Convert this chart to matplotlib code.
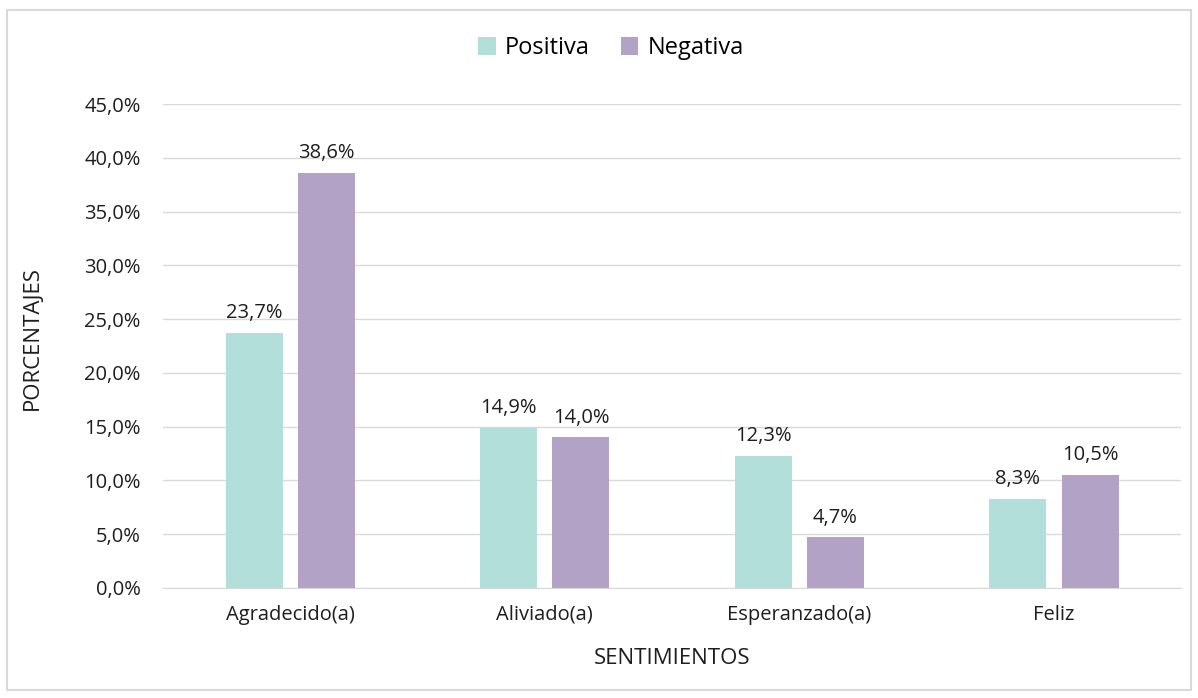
import matplotlib
matplotlib.use("Agg")
from matplotlib import pyplot as plt
from matplotlib.patches import Rectangle
import numpy as np

categories = ["Agradecido(a)", "Aliviado(a)", "Esperanzado(a)", "Feliz"]
positiva = [23.7, 14.9, 12.3, 8.3]
negativa = [38.6, 14.0, 4.7, 10.5]
yticks = [0, 5, 10, 15, 20, 25, 30, 35, 40, 45]

plt.rcParams["font.family"] = ["Open Sans", "DejaVu Sans"]
txt = "#1e1e1e"

fig = plt.figure(figsize=(11.98, 6.98), dpi=100)
ax = fig.add_axes([0.136, 0.1576, 0.850, 0.6934])

# outer chart border
fig.patches.append(Rectangle((0.006, 0.011), 0.988, 0.975, transform=fig.transFigure,
                             fill=False, edgecolor="#d9d9d9", linewidth=1.5))

x = np.arange(len(categories))
w = 0.224
b1 = ax.bar(x - 0.142, positiva, w, color="#b3dfda", label="Positiva", zorder=3)
b2 = ax.bar(x + 0.142, negativa, w, color="#b1a2c6", label="Negativa", zorder=3)

for bars, vals in ((b1, positiva), (b2, negativa)):
    for rect, v in zip(bars, vals):
        ax.annotate(f"{v:.1f}%".replace(".", ","),
                    xy=(rect.get_x() + rect.get_width() / 2, v),
                    xytext=(0, 7), textcoords="offset points",
                    ha="center", va="bottom", fontsize=14.5, color=txt)

ax.set_xlim(-0.5, len(categories) - 0.5)
ax.set_ylim(0, 45)
ax.set_yticks(yticks)
ax.set_yticklabels([f"{t:.1f}%".replace(".", ",") for t in yticks])
ax.set_xticks(x)
ax.set_xticklabels(categories)
ax.tick_params(axis="both", length=0, labelsize=14.5, colors=txt)
ax.tick_params(axis="y", pad=16)
ax.tick_params(axis="x", pad=12)
ax.grid(axis="y", color="#d9d9d9", linewidth=1, zorder=0)
for s in ["top", "right", "left"]:
    ax.spines[s].set_visible(False)
ax.spines["bottom"].set_color("#d9d9d9")

ax.set_xlabel("SENTIMIENTOS", fontsize=16, color=txt, va="center")
ax.set_ylabel("PORCENTAJES", fontsize=16, color=txt, va="center")
ax.xaxis.set_label_coords(0.5, -0.145)
ax.yaxis.set_label_coords(-0.128, 0.517)

fig.legend(loc="center", bbox_to_anchor=(0.51, 0.931), ncol=2, frameon=False,
           fontsize=17, handlelength=0.75, handleheight=0.75, columnspacing=1.3,
           handletextpad=0.4)

plt.savefig("out.png", dpi=100)
